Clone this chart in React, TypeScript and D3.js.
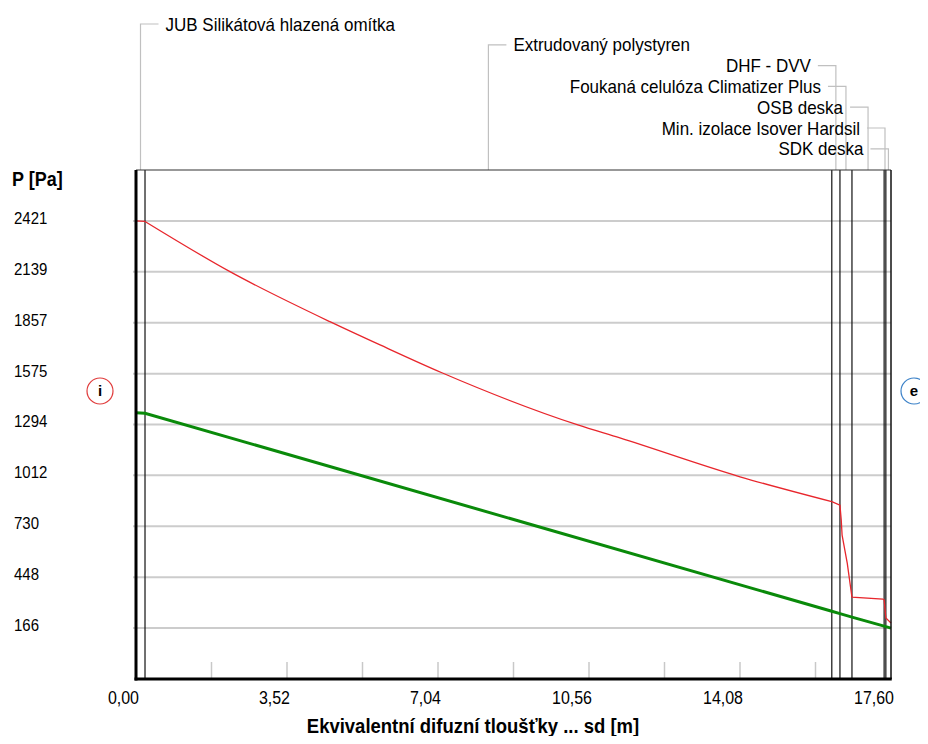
import React from "react";
import * as d3 from "d3";

// layer boundaries along the equivalent diffusion thickness sd [m]
const layerBounds = [0, 0.21, 16.22, 16.41, 16.69, 17.44, 17.48, 17.6];
const layerNames = [
  "JUB Silikátová hlazená omítka",
  "Extrudovaný polystyren",
  "DHF - DVV",
  "Foukaná celulóza Climatizer Plus",
  "OSB deska",
  "Min. izolace Isover Hardsil",
  "SDK deska",
];

const yTicks = [2421, 2139, 1857, 1575, 1294, 1012, 730, 448, 166];
const xTicks = [0, 3.52, 7.04, 10.56, 14.08, 17.6];
const xMinorTicks = [1.76, 3.52, 5.28, 7.04, 8.8, 10.56, 12.32, 14.08, 15.84];

// saturated vapour pressure (red) - XPS part is curved, the rest is drawn straight
const satSd = [0, 0.21, 2.19, 4.52, 5.69, 7.13, 10.3, 11.28, 14.08, 16.22, 16.41, 16.44, 16.46, 16.58, 16.65, 16.69, 17.41, 17.44, 17.48, 17.6];
const satP = [2421, 2418, 2140, 1863, 1734, 1580, 1291, 1219, 1004, 866, 847, 765, 681, 526, 405, 338, 327, 322, 222, 194];

// partial vapour pressure (green)
const parSd = [0, 0.21, 16.22, 16.41, 16.69, 17.44, 17.48, 17.6];
const parP = [1359, 1356, 259, 246, 227, 177, 174, 166];

const width = 928;
const height = 744;
const margin = { left: 136, right: 37, top: 170, bottom: 65 };
const font = "'Liberation Sans', Arial, sans-serif";

const Label = ({ x, y, anchor = "start", size = 15, bold = false, sx = 1, stretch = 1.12, children }: any) => (
  <text
    transform={`translate(${x},${y}) scale(${sx},${stretch})`}
    dy="0.35em"
    textAnchor={anchor}
    fontFamily={font}
    fontSize={size}
    fontWeight={bold ? "bold" : "normal"}
    fill="#000"
  >
    {children}
  </text>
);

const App = () => {
  const x = d3
    .scaleLinear()
    .domain([0, 17.6])
    .range([margin.left, width - margin.right]);
  const y = d3
    .scaleLinear()
    .domain([-116, 2703])
    .range([height - margin.bottom, margin.top]);

  const satData = satSd.map((s, i) => [s, satP[i]] as [number, number]);
  const parData = parSd.map((s, i) => [s, parP[i]] as [number, number]);

  const straight = d3
    .line<[number, number]>()
    .x((d) => x(d[0]))
    .y((d) => y(d[1]));
  const smooth = d3
    .line<[number, number]>()
    .x((d) => x(d[0]))
    .y((d) => y(d[1]))
    .curve(d3.curveMonotoneX);
  const xpsEnd = satSd.indexOf(16.22);

  const x0 = x(0);
  const x1 = x(17.6);
  const yTop = y.range()[1];
  const yBot = y.range()[0];

  // label rows above the plot
  const labels = layerNames.map((name, i) => {
    const mid = (x(layerBounds[i]) + x(layerBounds[i + 1])) / 2;
    const rowY = 24 + i * 20.8;
    const toRight = i < 2;
    return { name, mid, rowY, toRight };
  });

  return (
    <svg width={width} height={height} style={{ display: "block", margin: -8 }}>
      <rect width={width} height={height} fill="#fff" />

      {/* grid */}
      {yTicks.map((t) => (
        <line key={t} x1={x0 - 3} x2={x1} y1={y(t)} y2={y(t)} stroke="#cccccc" strokeWidth={2} />
      ))}
      {xMinorTicks.map((t) => (
        <line key={t} x1={x(t)} x2={x(t)} y1={yBot - 17} y2={yBot} stroke="#c8c8c8" strokeWidth={1.5} />
      ))}

      {/* layer boundaries */}
      {layerBounds.slice(1, -1).map((b) => (
        <line key={b} x1={x(b)} x2={x(b)} y1={yTop} y2={yBot} stroke="#111" strokeWidth={1.2} />
      ))}

      {/* leaders */}
      {labels.map((l) => (
        <g key={l.name}>
          <polyline
            points={
              l.toRight
                ? `${l.mid},${yTop} ${l.mid},${l.rowY} ${l.mid + 18},${l.rowY}`
                : `${l.mid},${yTop} ${l.mid},${l.rowY} ${l.mid - 18},${l.rowY}`
            }
            fill="none"
            stroke="#c0c0c0"
            strokeWidth={1.2}
          />
          <Label x={l.toRight ? l.mid + 25 : l.mid - 25} y={l.rowY} anchor={l.toRight ? "start" : "end"} size={17} stretch={1.1}>
            {l.name}
          </Label>
        </g>
      ))}

      {/* curves */}
      <path d={straight(parData) ?? ""} fill="none" stroke="#0a8a0a" strokeWidth={3} />
      <path d={straight(satData.slice(0, 2)) ?? ""} fill="none" stroke="#e8262c" strokeWidth={1.3} />
      <path d={smooth(satData.slice(1, xpsEnd + 1)) ?? ""} fill="none" stroke="#e8262c" strokeWidth={1.3} />
      <path d={straight(satData.slice(xpsEnd)) ?? ""} fill="none" stroke="#e8262c" strokeWidth={1.3} />

      {/* frame */}
      <line x1={x0} x2={x1} y1={yTop} y2={yTop} stroke="#333" strokeWidth={1.2} />
      <line x1={x1} x2={x1} y1={yTop} y2={yBot} stroke="#111" strokeWidth={1.5} />
      <line x1={x0} x2={x0} y1={yTop} y2={yBot + 1.5} stroke="#000" strokeWidth={3} />
      <line x1={x0 - 1.5} x2={x1 + 0.75} y1={yBot} y2={yBot} stroke="#000" strokeWidth={3} />

      {/* y axis labels */}
      <Label x={12} y={179} size={18} bold>
        P [Pa]
      </Label>
      {yTicks.map((t) => (
        <Label key={t} x={14} y={y(t) - 3}>
          {t}
        </Label>
      ))}

      {/* x axis labels */}
      {xTicks.map((t) => (
        <Label key={t} x={x(t) + 3} y={698} anchor="end" size={16}>
          {t.toFixed(2).replace(".", ",")}
        </Label>
      ))}
      <Label x={473} y={726} anchor="middle" size={18.5} bold stretch={1.05}>
        Ekvivalentní difuzní tloušťky ... sd [m]
      </Label>

      {/* interior / exterior markers */}
      <circle cx={100} cy={391} r={13} fill="none" stroke="#e03c3c" strokeWidth={1.2} />
      <Label x={100} y={391} anchor="middle" bold stretch={1}>
        i
      </Label>
      <circle cx={914} cy={391} r={13} fill="none" stroke="#3c82c8" strokeWidth={1.2} />
      <Label x={914} y={391} anchor="middle" bold stretch={1}>
        e
      </Label>
    </svg>
  );
};

export default App;
